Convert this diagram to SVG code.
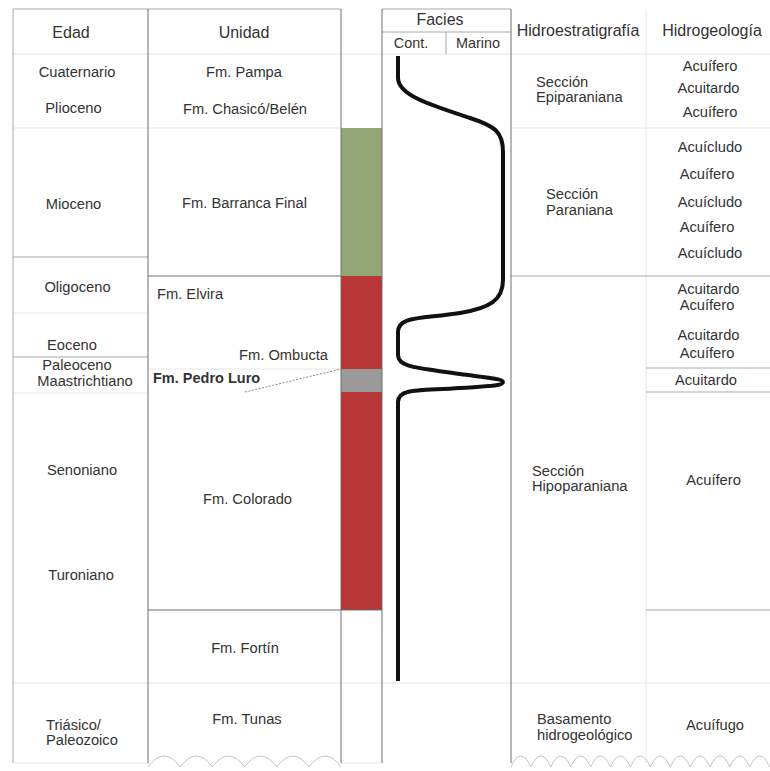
<svg xmlns="http://www.w3.org/2000/svg" width="770" height="771" viewBox="0 0 770 771">
<style>
text{font-family:"Liberation Sans",Arial,sans-serif;fill:#333;font-size:14.7px}
.h{font-size:16px}
.m{text-anchor:middle}
.b{font-weight:bold}
.dk{stroke:#6e6e6e;stroke-width:1;fill:none}
.md{stroke:#a8a8a8;stroke-width:1;fill:none}
.lt{stroke:#e6e6e6;stroke-width:1;fill:none}
.wv{stroke:#b5b5b5;stroke-width:0.8;fill:none}
</style>
<rect width="770" height="771" fill="#fff"/>
<g id="colorbar">
<rect x="341" y="128" width="41" height="148" fill="#93a676"/>
<rect x="341" y="276" width="41" height="93" fill="#b83636"/>
<rect x="341" y="369" width="41" height="23" fill="#9a9a9a"/>
<rect x="341" y="392" width="41" height="218" fill="#b83636"/>
</g>
<g id="grid">
<path class="lt" d="M13,54H770M13,128H341M511,128H770M13,313H148M148,369H341M13,393H148M13,683H770M646,9V763M13,763H148M341,763H382"/>
<path class="md" d="M13,9H341M382,9H511M13,9V763M13,257H148M13,357H148M511,276H770M646,368H770M646,392H770M646,610H770M382,32H511M446,32V54"/>
<path class="dk" d="M148,9V763M341,9V763M382,9V763M511,9V763M148,276H341M148,610H382"/>
<path class="wv" d="M148,767q16.1,-22 32.2,0q16.1,-22 32.2,0q16.1,-22 32.2,0q16.1,-22 32.2,0q16.1,-22 32.2,0q16.1,-22 32.2,0"/>
<path class="wv" d="M511,767q10,-22 19.9,0q10,-22 19.9,0q10,-22 19.9,0q10,-22 19.9,0q10,-22 19.9,0q10,-22 19.9,0q10,-22 19.9,0q10,-22 19.9,0q10,-22 19.9,0q10,-22 19.9,0q10,-22 19.9,0q10,-22 19.9,0q10,-22 19.9,0"/>
</g>
<g id="headers">
<text class="h m" x="71" y="38">Edad</text>
<text class="h m" x="244" y="38">Unidad</text>
<text class="h m" x="440" y="25">Facies</text>
<text class="m" x="411" y="48" style="font-size:14.4px">Cont.</text>
<text class="m" x="478" y="48" style="font-size:14.4px">Marino</text>
<text class="h m" x="578" y="36">Hidroestratigrafía</text>
<text class="h m" x="712" y="36">Hidrogeología</text>
</g>
<g id="edad">
<text class="m" x="77" y="77">Cuaternario</text>
<text class="m" x="73.5" y="113">Plioceno</text>
<text class="m" x="73.5" y="209">Mioceno</text>
<text class="m" x="77.5" y="292">Oligoceno</text>
<text class="m" x="72" y="350">Eoceno</text>
<text class="m" x="77" y="370">Paleoceno</text>
<text class="m" x="85" y="386">Maastrichtiano</text>
<text class="m" x="82" y="475">Senoniano</text>
<text class="m" x="81" y="580">Turoniano</text>
<text x="46" y="730">Triásico/</text>
<text x="46" y="745">Paleozoico</text>
</g>
<g id="unidad">
<text class="m" x="244" y="77">Fm. Pampa</text>
<text class="m" x="245" y="114">Fm. Chasicó/Belén</text>
<text class="m" x="244.5" y="208">Fm. Barranca Final</text>
<text x="157" y="299">Fm. Elvira</text>
<text x="328" y="360" style="text-anchor:end">Fm. Ombucta</text>
<text class="b" x="153" y="383" style="font-size:14.5px">Fm. Pedro Luro</text>
<text class="m" x="247.5" y="504">Fm. Colorado</text>
<text class="m" x="245" y="653">Fm. Fortín</text>
<text class="m" x="247" y="724">Fm. Tunas</text>
</g>
<g id="connectors">
<path d="M245,392L341,369" stroke="#8a8a8a" stroke-width="1" stroke-dasharray="2,1.5" fill="none"/>
<path id="facies-curve" d="M398,56L398,78C398,95 430,105 470,118C495,126 503,132 503,152L503,280C503,300 490,308 460,313C420,319 398,316 398,332L398,355C398,368 420,368 460,374C490,378 503,379 503,382C503,386 490,386 460,388C420,391 398,388 398,402L398,681" stroke="#111" stroke-width="4" fill="none" stroke-linejoin="round"/>
</g>
<g id="hidroestratigrafia">
<text x="536" y="87">Sección</text>
<text x="536" y="102">Epiparaniana</text>
<text x="546" y="199">Sección</text>
<text x="546" y="215">Paraniana</text>
<text x="532" y="476">Sección</text>
<text x="532" y="491">Hipoparaniana</text>
<text x="537" y="724">Basamento</text>
<text x="537" y="740">hidrogeológico</text>
</g>
<g id="hidrogeologia">
<text class="m" x="710" y="71">Acuífero</text>
<text class="m" x="708.5" y="93">Acuitardo</text>
<text class="m" x="710" y="117">Acuífero</text>
<text class="m" x="710" y="152">Acuícludo</text>
<text class="m" x="707" y="179">Acuífero</text>
<text class="m" x="710" y="207">Acuícludo</text>
<text class="m" x="707" y="232">Acuífero</text>
<text class="m" x="710" y="258">Acuícludo</text>
<text class="m" x="708.5" y="294">Acuitardo</text>
<text class="m" x="707" y="310">Acuífero</text>
<text class="m" x="708.5" y="340">Acuitardo</text>
<text class="m" x="707" y="358">Acuífero</text>
<text class="m" x="706" y="385">Acuitardo</text>
<text class="m" x="713.5" y="485">Acuífero</text>
<text class="m" x="715" y="730">Acuífugo</text>
</g>
</svg>
